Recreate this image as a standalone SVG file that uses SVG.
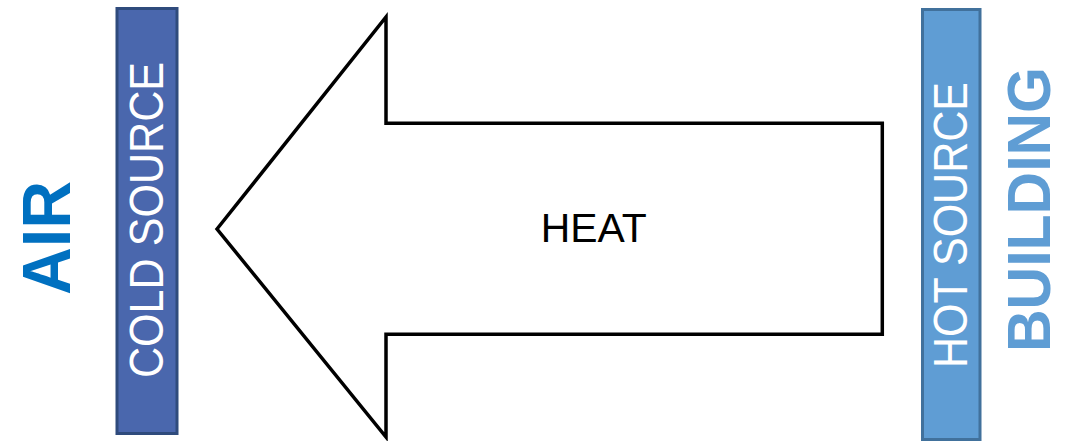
<svg xmlns="http://www.w3.org/2000/svg" width="1068" height="441" viewBox="0 0 1068 441">
  <style>
    .lbl { font-family: "Liberation Sans", Arial, sans-serif; }
    .bar-text { fill: #ffffff; font-size: 48px; }
    .side { font-weight: bold; }
  </style>
  <rect width="1068" height="441" fill="#ffffff"/>
  <g id="cold-source">
    <rect x="117" y="8.5" width="60" height="425" fill="#4a67ad" stroke="#2f4b7c" stroke-width="3"/>
    <text class="lbl bar-text" text-anchor="middle" textLength="316" lengthAdjust="spacingAndGlyphs" transform="translate(163.3,220) rotate(-90)">COLD SOURCE</text>
  </g>
  <g id="air">
    <text class="lbl side" fill="#0070c0" font-size="69" text-anchor="middle" textLength="114" lengthAdjust="spacingAndGlyphs" transform="translate(69.5,238) rotate(-90)">AIR</text>
  </g>
  <g id="hot-source">
    <rect x="922.5" y="9.5" width="57.5" height="430" fill="#5f9dd4" stroke="#41719c" stroke-width="3"/>
    <text class="lbl bar-text" font-size="45" text-anchor="middle" textLength="286" lengthAdjust="spacingAndGlyphs" transform="translate(967.3,225) rotate(-90)">HOT SOURCE</text>
  </g>
  <g id="building">
    <text class="lbl side" fill="#5f9dd4" font-size="61" text-anchor="middle" textLength="285" lengthAdjust="spacingAndGlyphs" transform="translate(1049.5,209.5) rotate(-90)">BUILDING</text>
  </g>
  <g id="connectors">
    <g id="heat">
      <polygon points="217,229 386,17 386,123.3 882.3,123.3 882.3,334.3 386,334.3 386,437" fill="#ffffff" stroke="#000000" stroke-width="3.5" stroke-linejoin="miter"/>
      <text class="lbl" x="593.7" y="242" font-size="41" text-anchor="middle" textLength="106" lengthAdjust="spacingAndGlyphs" fill="#000000">HEAT</text>
    </g>
  </g>
</svg>
